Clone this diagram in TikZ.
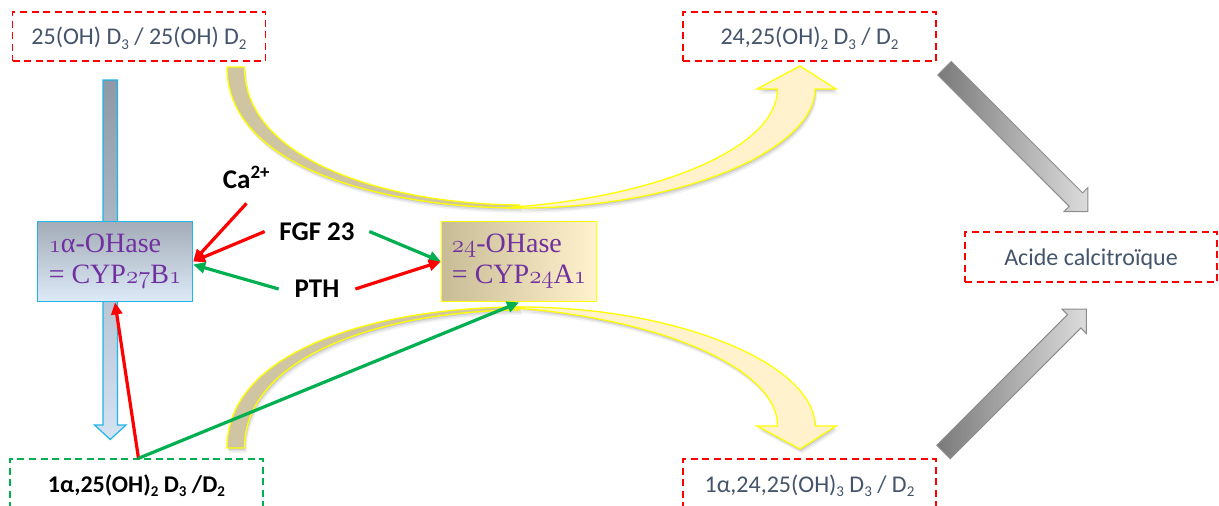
\documentclass[tikz,border=0pt]{standalone}
\usepackage{fontspec}
\setmainfont{Carlito}
\newfontfamily\enzfont{Liberation Serif}
\usetikzlibrary{arrows.meta}
\definecolor{txtgray}{HTML}{44546A}
\definecolor{dred}{HTML}{FF0000}
\definecolor{dgreen}{HTML}{00B050}
\definecolor{enzpurple}{HTML}{7030A0}
\definecolor{tanback}{HTML}{CFC5A3}
\definecolor{tanbox}{HTML}{C8BC96}
\definecolor{cream}{HTML}{FFF2CC}
\definecolor{bandyellow}{HTML}{FFFF00}
\definecolor{skyblue}{HTML}{1FB4EA}
\definecolor{bluetop}{HTML}{8E99A5}
\definecolor{bluebot}{HTML}{D4E2F2}
\definecolor{boxtop}{HTML}{A3ACB7}
\definecolor{boxbot}{HTML}{DDEAF8}
\definecolor{graydark}{HTML}{7A7A7A}
\definecolor{graylight}{HTML}{DCDCDC}
\definecolor{grayedge}{HTML}{8C8C8C}
\newcommand\dsub[1]{\raisebox{-0.2em}{\fontsize{15}{15}\selectfont #1}}
\newcommand\osn[1]{$\mathnormal{#1}$}
\def\tanshape{(227,67) .. controls (227,170) and (390,208) .. (520,208) -- (520,205) .. controls (385,204) and (244.5,160) .. (244.5,67) -- cycle}
\def\creamshape{(505,207.6) -- (520,208) .. controls (680,208) and (815,150) .. (815,89) -- (836,89) -- (800,66) -- (757,89) -- (777.5,89) .. controls (777.5,150) and (650,199) .. (505,207.6) -- cycle}
\newcommand\bandarrow[1]{%
  \foreach \s/\o in {1/0.10,2/0.07,3/0.05}{%
    \fill[black, opacity=\o, shift={({0.7*\s},{#1*1.6*\s})}] \tanshape \creamshape;}
  \filldraw[fill=tanback, draw=bandyellow, line width=1.3pt, line join=round] \tanshape;
  \filldraw[fill=cream, draw=bandyellow, line width=1.3pt, line join=miter] \creamshape;
}
\begin{document}
\begin{tikzpicture}[x=1pt,y=-1pt,
  dbox/.style={draw=dred, dash pattern=on 7pt off 4.5pt, line width=1.4pt,
    minimum width=253pt, minimum height=49pt, inner sep=0pt, text=txtgray,
    font=\fontsize{24}{28}\selectfont, text height=18pt, text depth=1pt},
  gbox/.style={dbox, draw=dgreen, text=black, font=\bfseries\fontsize{24}{28}\selectfont},
  enz/.style={minimum width=155pt, minimum height=80.5pt, line width=1.3pt, inner sep=0pt,
    align=left, text=enzpurple, font=\enzfont\fontsize{28}{31}\selectfont},
  lbl/.style={font=\bfseries\fontsize{27}{30}\selectfont, inner ysep=0pt},
  redarr/.style={draw=dred, line width=3.2pt, -{Triangle[length=12pt,width=11pt]}},
  greenarr/.style={draw=dgreen, line width=3.2pt, -{Triangle[length=12pt,width=11pt]}},
  grayarrow/.style={draw=grayedge, line width=1pt, left color=graydark, right color=graylight},
  bluearrow/.style={draw=skyblue, line width=1.2pt, top color=bluetop, bottom color=bluebot}
]
\useasboundingbox (0,0) rectangle (1219,506);
\fill[white] (0,0) rectangle (1219,506);

% vertical blue block arrow (behind the 1alpha box)
\path[bluearrow] (103,80) -- (117.5,80) -- (117.5,425) -- (126,425) -- (110.25,439.5)
  -- (94.5,425) -- (103,425) -- cycle;

% curved block arrows
\bandarrow{1}
\begin{scope}[shift={(0,515)}, yscale=-1]
  \bandarrow{-1}
\end{scope}

% gray diagonal block arrows
\begin{scope}[shift={(944.5,68.2)}, rotate=-45]
  \path[grayarrow] (0,-9.5) -- (185.8,-9.5) -- (185.8,-17.1) -- (202.9,0)
    -- (185.8,17.1) -- (185.8,9.5) -- (0,9.5) -- cycle;
\end{scope}
\begin{scope}[shift={(943.5,452)}, rotate=45]
  \path[grayarrow] (0,-9.5) -- (184.8,-9.5) -- (184.8,-17.1) -- (201.9,0)
    -- (184.8,17.1) -- (184.8,9.5) -- (0,9.5) -- cycle;
\end{scope}

% metabolite boxes
\node[dbox] (n25) at (139,36.5) {25(OH) D\dsub{3} / 25(OH) D\dsub{2}};
\node[dbox] (n2425) at (809.5,36.5) {24,25(OH)\dsub{2} D\dsub{3} / D\dsub{2}};
\node[dbox, minimum width=252pt, minimum height=50pt] (acid) at (1091,257) {Acide calcitroïque};
\node[dbox] (n12425) at (809.5,483.5) {1α,24,25(OH)\dsub{3} D\dsub{3} / D\dsub{2}};
\node[gbox] (n125) at (136.5,483.5) {1α,25(OH)\dsub{2} D\dsub{3} /D\dsub{2}};

% enzyme boxes
\node[enz, draw=skyblue, top color=boxtop, bottom color=boxbot] (e1) at (115,261.5)
  {\osn{1}α-OHase\\= CYP\osn{27}B\osn{1}};
\node[enz, draw=bandyellow, left color=tanbox, right color=cream] (e24) at (519,261.5)
  {\osn{24}-OHase\\= CYP\osn{24}A\osn{1}};

% regulators
\node[lbl, anchor=base, inner ysep=15pt] (ca) at (246.5,188) {Ca\textsuperscript{2+}};
\node[lbl, inner xsep=14.5pt] (fgf) at (317,231.5) {FGF 23};
\node[lbl, inner xsep=15.8pt] (pth) at (317,289) {PTH};

% regulation arrows
\draw[redarr] (ca.south) -- (e1.east);
\draw[redarr] (fgf.west) -- (e1.east);
\draw[greenarr] (pth.west) -- ([yshift=-3pt]e1.east);
\draw[greenarr] (fgf.east) -- (e24.west);
\draw[redarr] (pth.east) -- (e24.west);
\draw[redarr] ([xshift=2pt]n125.north) -- (e1.south);
\draw[greenarr] ([xshift=2pt]n125.north) -- (e24.south);
\end{tikzpicture}
\end{document}
